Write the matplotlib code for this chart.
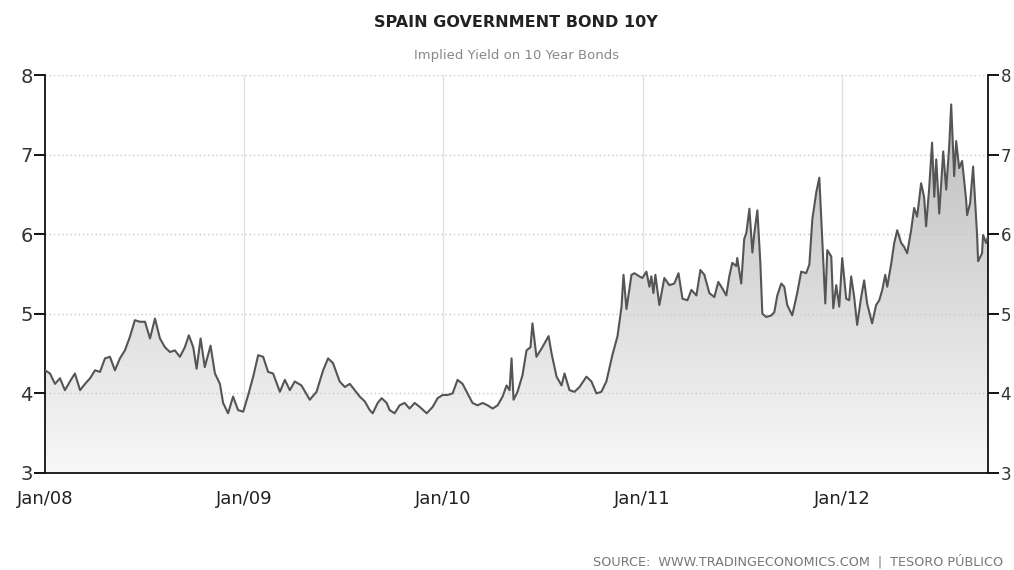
import matplotlib
matplotlib.use("Agg")
import matplotlib.pyplot as plt
import numpy as np
from matplotlib.colors import LinearSegmentedColormap
from matplotlib.patches import PathPatch

# time as decimal years, yield in %
years = [
    2008.000, 2008.025, 2008.050, 2008.075, 2008.100, 2008.125, 2008.150, 2008.176,
    2008.201, 2008.226, 2008.251, 2008.276, 2008.301, 2008.326, 2008.351, 2008.376,
    2008.401, 2008.426, 2008.451, 2008.476, 2008.502, 2008.527, 2008.552, 2008.577,
    2008.602, 2008.627, 2008.652, 2008.677, 2008.702, 2008.722, 2008.744, 2008.761,
    2008.781, 2008.802, 2008.831, 2008.853, 2008.878, 2008.894, 2008.919, 2008.944,
    2008.969, 2008.995, 2009.020, 2009.045, 2009.070, 2009.095, 2009.120, 2009.145,
    2009.179, 2009.204, 2009.229, 2009.254, 2009.287, 2009.329, 2009.363, 2009.396,
    2009.421, 2009.446, 2009.479, 2009.505, 2009.530, 2009.555, 2009.580, 2009.605,
    2009.630, 2009.645, 2009.670, 2009.690, 2009.715, 2009.730, 2009.755, 2009.780,
    2009.805, 2009.830, 2009.856, 2009.881, 2009.916, 2009.946, 2009.971, 2009.996,
    2010.021, 2010.046, 2010.071, 2010.096, 2010.121, 2010.146, 2010.171, 2010.197,
    2010.222, 2010.247, 2010.272, 2010.297, 2010.317, 2010.332, 2010.342, 2010.352,
    2010.372, 2010.397, 2010.417, 2010.437, 2010.447, 2010.467, 2010.492, 2010.508,
    2010.528, 2010.543, 2010.568, 2010.593, 2010.608, 2010.633, 2010.658, 2010.683,
    2010.718, 2010.743, 2010.768, 2010.793, 2010.818, 2010.849, 2010.874, 2010.894,
    2010.904, 2010.919, 2010.944, 2010.959, 2010.984, 2010.999, 2011.019, 2011.034,
    2011.044, 2011.054, 2011.064, 2011.084, 2011.109, 2011.134, 2011.159, 2011.180,
    2011.200, 2011.225, 2011.245, 2011.270, 2011.290, 2011.310, 2011.335, 2011.360,
    2011.380, 2011.400, 2011.420, 2011.435, 2011.450, 2011.470, 2011.475, 2011.495,
    2011.510, 2011.521, 2011.536, 2011.551, 2011.561, 2011.576, 2011.591, 2011.601,
    2011.621, 2011.646, 2011.661, 2011.676, 2011.696, 2011.711, 2011.726, 2011.751,
    2011.776, 2011.796, 2011.821, 2011.837, 2011.852, 2011.872, 2011.887, 2011.902,
    2011.917, 2011.927, 2011.947, 2011.957, 2011.972, 2011.987, 2012.002, 2012.022,
    2012.037, 2012.047, 2012.062, 2012.077, 2012.097, 2012.112, 2012.127, 2012.152,
    2012.172, 2012.188, 2012.203, 2012.218, 2012.228, 2012.248, 2012.263, 2012.278,
    2012.298, 2012.313, 2012.328, 2012.348, 2012.363, 2012.378, 2012.398, 2012.413,
    2012.423, 2012.438, 2012.453, 2012.464, 2012.474, 2012.489, 2012.509, 2012.524,
    2012.539, 2012.549, 2012.564, 2012.574, 2012.589, 2012.604, 2012.624, 2012.629,
    2012.644, 2012.659, 2012.679, 2012.684, 2012.704, 2012.709, 2012.724, 2012.734,
]
yields = [
    4.29, 4.25, 4.12, 4.19, 4.04, 4.15, 4.25, 4.04,
    4.12, 4.19, 4.29, 4.27, 4.44, 4.46, 4.29, 4.44,
    4.54, 4.71, 4.92, 4.90, 4.90, 4.69, 4.94, 4.69,
    4.58, 4.52, 4.54, 4.46, 4.58, 4.73, 4.58, 4.31,
    4.69, 4.33, 4.60, 4.25, 4.12, 3.88, 3.75, 3.96,
    3.79, 3.77, 3.98, 4.21, 4.48, 4.46, 4.27, 4.25,
    4.02, 4.17, 4.04, 4.15, 4.10, 3.92, 4.02, 4.29,
    4.44, 4.38, 4.15, 4.08, 4.12, 4.04, 3.96, 3.90,
    3.79, 3.75, 3.88, 3.94, 3.88, 3.79, 3.75, 3.85,
    3.88, 3.81, 3.88, 3.83, 3.75, 3.83, 3.94, 3.98,
    3.98, 4.00, 4.17, 4.12, 4.00, 3.88, 3.85, 3.88,
    3.85, 3.81, 3.85, 3.96, 4.10, 4.04, 4.44, 3.92,
    4.02, 4.23, 4.54, 4.58, 4.88, 4.46, 4.56, 4.63,
    4.72, 4.50, 4.21, 4.10, 4.25, 4.04, 4.02, 4.08,
    4.21, 4.15, 4.00, 4.02, 4.15, 4.49, 4.72, 5.09,
    5.49, 5.06, 5.49, 5.51, 5.47, 5.45, 5.53, 5.34,
    5.47, 5.26, 5.49, 5.11, 5.45, 5.36, 5.38, 5.51,
    5.19, 5.17, 5.30, 5.23, 5.55, 5.49, 5.26, 5.21,
    5.40, 5.32, 5.23, 5.47, 5.64, 5.60, 5.70, 5.38,
    5.94, 6.02, 6.32, 5.77, 6.02, 6.30, 5.64, 5.00,
    4.96, 4.98, 5.02, 5.23, 5.38, 5.34, 5.11, 4.98,
    5.26, 5.53, 5.51, 5.62, 6.19, 6.53, 6.71, 5.93,
    5.13, 5.80, 5.72, 5.07, 5.36, 5.09, 5.70, 5.19,
    5.17, 5.47, 5.21, 4.86, 5.21, 5.42, 5.13, 4.88,
    5.11, 5.17, 5.30, 5.49, 5.34, 5.63, 5.89, 6.05,
    5.89, 5.84, 5.76, 6.05, 6.33, 6.22, 6.64, 6.47,
    6.10, 6.56, 7.15, 6.47, 6.94, 6.26, 7.04, 6.56,
    7.11, 7.63, 6.73, 7.17, 6.83, 6.92, 6.43, 6.24,
    6.39, 6.85, 5.99, 5.66, 5.76, 5.99, 5.89, 5.97,
]

x_ticks = [2008, 2009, 2010, 2011, 2012]
x_labels = ["Jan/08", "Jan/09", "Jan/10", "Jan/11", "Jan/12"]
y_ticks = [3, 4, 5, 6, 7, 8]

fig = plt.figure(figsize=(10.14, 5.70), dpi=100)
ax = fig.add_axes([0.0444, 0.1702, 0.9300, 0.6982])

x0, x1 = years[0], years[-1]
y0, y1 = y_ticks[0], y_ticks[-1]

# gradient area under the line
poly = ax.fill_between(years, yields, y0, facecolor="none", edgecolor="none")
clip = PathPatch(poly.get_paths()[0], transform=ax.transData,
                 facecolor="none", edgecolor="none")
ax.add_patch(clip)
grad = np.linspace(1, 0, 256).reshape(-1, 1)
cmap = LinearSegmentedColormap.from_list("area", ["#f8f8f8", "#b8b8b8"])
im = ax.imshow(grad, extent=[x0, x1, y0, y1], aspect="auto", cmap=cmap,
               origin="upper", zorder=1)
im.set_clip_path(clip)

ax.plot(years, yields, color="#555555", lw=1.5, zorder=3)

ax.set_xlim(x0, x1)
ax.set_ylim(y0, y1)
ax.set_xticks(x_ticks)
ax.set_xticklabels(x_labels)
ax.set_yticks(y_ticks)

ax.grid(axis="y", color="#c8c8c8", linestyle=(0, (1, 2)), lw=1, zorder=0)
for xt in x_ticks[1:]:
    ax.axvline(xt, color="#e2e2e2", lw=1, zorder=0)

for side in ["left", "right", "bottom"]:
    ax.spines[side].set_color("#111111")
    ax.spines[side].set_linewidth(1.3)
ax.spines["top"].set_visible(False)

ax.tick_params(axis="y", left=True, right=True, labelleft=True, labelright=True,
               direction="out", length=8, width=1.3, labelsize=14,
               labelcolor="#333333", pad=2)
# right-hand labels squeezed a little so they stay inside the figure
for t in ax.yaxis.get_major_ticks():
    t.label2.set_fontsize(12)
    t.set_pad(1)
ax.tick_params(axis="x", length=0, labelsize=13, labelcolor="#222222", pad=12)

fig.text(0.509, 0.961, "SPAIN GOVERNMENT BOND 10Y", ha="center", va="center",
         fontsize=11.5, fontweight="bold", color="#222222")
fig.text(0.509, 0.9035, "Implied Yield on 10 Year Bonds", ha="center",
         va="center", fontsize=9.5, color="#888888")
fig.text(0.989, 0.0158, "SOURCE:  WWW.TRADINGECONOMICS.COM  |  TESORO PÚBLICO",
         ha="right", va="center", fontsize=9.2, color="#777777")

fig.savefig("out.png", dpi=100)
